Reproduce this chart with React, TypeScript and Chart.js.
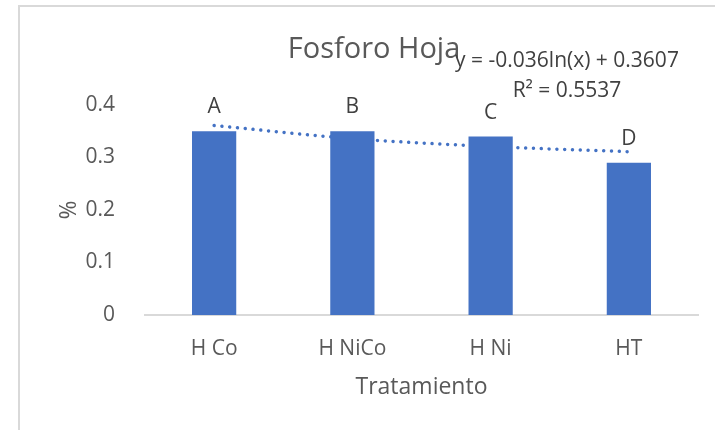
import React, { useEffect, useRef } from "react";
import { Chart, registerables } from "chart.js";

Chart.register(...registerables);

const categories = ["H Co", "H NiCo", "H Ni", "HT"];
const values = [0.35, 0.35, 0.34, 0.29];
const letters = ["A", "B", "C", "D"];
const trendValues = [0.361, 0.336, 0.321, 0.311];
const yTicks = [0, 0.1, 0.2, 0.3, 0.4];
const titleText = "Fosforo Hoja";
const equationLines = ["y = -0.036ln(x) + 0.3607", "R² = 0.5537"];
const xTitle = "Tratamiento";
const yTitle = "%";

const FONT = "'Open Sans', 'Noto Sans', sans-serif";
const BLUE = "#4472C4";

const decorPlugin = {
  id: "decor",
  beforeDraw(chart: any) {
    const ctx = chart.ctx;
    ctx.save();
    ctx.fillStyle = "#ffffff";
    ctx.fillRect(0, 0, chart.width, chart.height);
    ctx.strokeStyle = "#d9d9d9";
    ctx.lineWidth = 2;
    ctx.beginPath();
    ctx.moveTo(19, chart.height);
    ctx.lineTo(19, 6);
    ctx.lineTo(chart.width, 6);
    ctx.stroke();
    ctx.restore();
  },
  afterDraw(chart: any) {
    const ctx = chart.ctx;
    ctx.save();
    // title
    ctx.fillStyle = "#595959";
    ctx.font = `29px ${FONT}`;
    ctx.textAlign = "center";
    ctx.textBaseline = "alphabetic";
    ctx.fillText(titleText, 374, 58);
    // letters above bars
    const meta = chart.getDatasetMeta(0);
    ctx.fillStyle = "#404040";
    ctx.font = `21px ${FONT}`;
    meta.data.forEach((bar: any, i: number) => {
      ctx.fillText(letters[i], bar.x, bar.y - 18);
    });
    // trendline equation
    ctx.font = `21px ${FONT}`;
    ctx.fillText(equationLines[0], 567, 67);
    ctx.fillText(equationLines[1], 567, 97);
    ctx.restore();
  },
};

export default function App() {
  const ref = useRef<HTMLCanvasElement | null>(null);

  useEffect(() => {
    if (!ref.current) return;
    const chart = new Chart(ref.current, {
      type: "bar",
      data: {
        labels: categories,
        datasets: [
          {
            type: "bar",
            data: values,
            backgroundColor: BLUE,
            borderWidth: 0,
            barPercentage: 0.32,
            categoryPercentage: 1,
            order: 1,
          },
          {
            type: "line",
            data: trendValues,
            borderColor: BLUE,
            borderWidth: 3.5,
            borderDash: [0.01, 7.8],
            borderCapStyle: "round",
            pointRadius: 0,
            cubicInterpolationMode: "monotone",
            fill: false,
            order: 2,
          } as any,
        ],
      },
      options: {
        responsive: false,
        animation: false,
        layout: { padding: { left: 50, top: 105, right: 17, bottom: 0 } },
        plugins: {
          legend: { display: false },
          title: { display: false },
          tooltip: { enabled: false },
        },
        scales: {
          x: {
            grid: { display: false },
            border: { display: true, color: "#d9d9d9", width: 2 },
            ticks: { color: "#595959", font: { family: FONT, size: 21 }, padding: 13, maxRotation: 0 },
            title: {
              display: true,
              text: xTitle,
              color: "#595959",
              font: { family: FONT, size: 23 },
              padding: { top: 0, bottom: 29 },
            },
            afterFit(scale: any) {
              scale.height = 115;
            },
          },
          y: {
            min: 0,
            max: 0.4,
            grid: { display: false },
            border: { display: false },
            afterBuildTicks(scale: any) {
              scale.ticks = yTicks.map((v) => ({ value: v }));
            },
            ticks: {
              color: "#595959",
              font: { family: FONT, size: 21 },
              padding: 22,
              callback: (v: any) => String(Number(Number(v).toFixed(1))),
            },
            title: {
              display: true,
              text: yTitle,
              color: "#595959",
              font: { family: FONT, size: 23 },
              padding: { top: 6, bottom: 0 },
            },
            afterFit(scale: any) {
              scale.width = 95;
            },
          },
        },
      },
      plugins: [decorPlugin],
    });
    return () => chart.destroy();
  }, []);

  return (
    <div style={{ position: "fixed", left: 0, top: 0, width: 715, height: 430 }}>
      <canvas ref={ref} width={715} height={430} style={{ display: "block", width: 715, height: 430 }} />
    </div>
  );
}
